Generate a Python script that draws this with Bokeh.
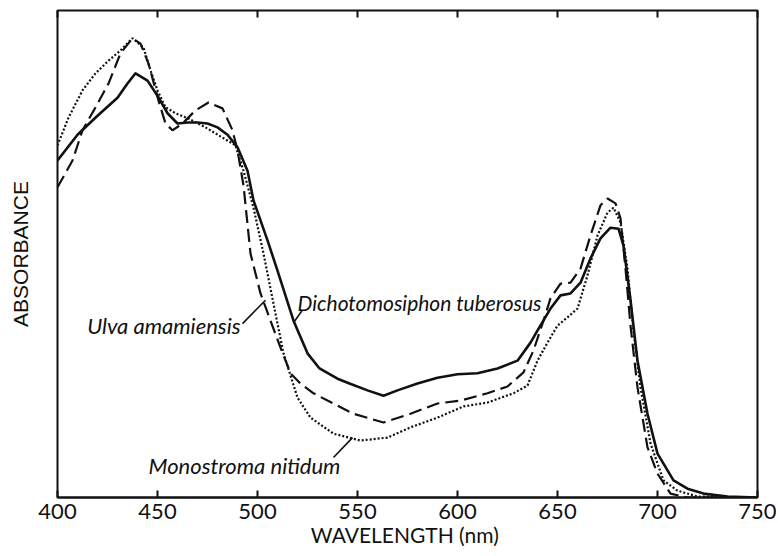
from bokeh.plotting import figure
from bokeh.models import ColumnDataSource, FixedTicker, LinearAxis, Label, Range1d
from bokeh.embed import file_html
from bokeh.resources import INLINE

# ---------------- data ----------------
x_ticks = [400, 450, 500, 550, 600, 650, 700, 750]

dicho_wl = [400, 410, 420, 430, 435, 439, 445, 450, 455, 460, 465, 470, 475, 480, 485,
            490, 495, 498, 505, 510, 518, 525, 531, 540, 546, 555, 563, 570, 580, 590,
            600, 610, 620, 630, 636.5, 641, 646.5, 651.5, 656.5, 661.5, 666.5, 671.5,
            676.5, 680.5, 683, 686.5, 690, 695, 700, 708, 715, 723, 735, 750]
dicho_abs = [0.692, 0.745, 0.784, 0.821, 0.850, 0.871, 0.856, 0.825, 0.789, 0.768, 0.770,
             0.770, 0.768, 0.760, 0.745, 0.719, 0.671, 0.610, 0.528, 0.466, 0.363, 0.296,
             0.265, 0.244, 0.234, 0.220, 0.209, 0.220, 0.234, 0.246, 0.253, 0.255, 0.265,
             0.281, 0.318, 0.350, 0.388, 0.415, 0.419, 0.441, 0.491, 0.532, 0.554, 0.552,
             0.517, 0.405, 0.281, 0.172, 0.090, 0.035, 0.018, 0.008, 0.002, 0.0]

ulva_wl = [400, 407.5, 412.5, 419, 425.5, 431.5, 437.5, 441.5, 445.5, 450.5, 454, 457.5,
           462.5, 469, 475.5, 482.5, 487.5, 490, 493, 496.5, 501.5, 506.5, 511.5, 516.5,
           521.5, 528, 535, 548, 563, 576.5, 590, 601.5, 615, 625, 633, 638, 643, 646.5,
           651.5, 656.5, 661.5, 666.5, 671.5, 675, 679, 681.5, 684, 686.5, 690, 695, 700,
           706.5, 715, 750]
ulva_abs = [0.637, 0.692, 0.754, 0.801, 0.850, 0.912, 0.943, 0.932, 0.891, 0.815, 0.768,
            0.754, 0.768, 0.795, 0.811, 0.799, 0.754, 0.713, 0.641, 0.501, 0.419, 0.363,
            0.308, 0.255, 0.234, 0.214, 0.199, 0.172, 0.154, 0.172, 0.193, 0.199, 0.214,
            0.228, 0.257, 0.302, 0.363, 0.409, 0.439, 0.441, 0.470, 0.538, 0.600, 0.614,
            0.604, 0.573, 0.470, 0.353, 0.226, 0.103, 0.049, 0.008, 0.0, 0.0]

mono_wl = [400, 405.5, 412.5, 419, 425.5, 431.5, 437.5, 443, 446.5, 450, 454, 459, 465.5,
           474, 482.5, 489, 493, 498, 503, 508, 513, 520, 526.5, 538, 551.5, 565, 576.5,
           590, 603, 615, 628, 635, 640, 645, 650, 655, 660, 665, 670, 675, 678, 681.5,
           685, 688, 691.5, 696.5, 703, 710, 720, 750]
mono_abs = [0.723, 0.780, 0.836, 0.871, 0.897, 0.918, 0.943, 0.924, 0.877, 0.836, 0.801,
            0.789, 0.778, 0.760, 0.739, 0.723, 0.671, 0.595, 0.501, 0.398, 0.296, 0.205,
            0.164, 0.131, 0.117, 0.123, 0.144, 0.164, 0.187, 0.195, 0.214, 0.230, 0.281,
            0.318, 0.353, 0.370, 0.388, 0.456, 0.538, 0.585, 0.595, 0.565, 0.470, 0.343,
            0.226, 0.111, 0.035, 0.014, 0.002, 0.0]

# curve labels: text, anchor (wl, abs), alignment, font size, leader line start/end
label_names = ["Dichotomosiphon tuberosus", "Ulva amamiensis", "Monostroma nitidum"]
label_wl = [520, 491.5, 445.5]
label_abs = [0.400, 0.353, 0.066]
label_align = ["left", "right", "left"]
label_size = ["21px", "22px", "22px"]
leader_wl0 = [522.5, 492.5, 538]
leader_abs0 = [0.385, 0.357, 0.082]
leader_wl1 = [518, 504, 547.5]
leader_abs1 = [0.359, 0.405, 0.123]

INK = "#111111"
FONT = "Lato"

# ---------------- figure ----------------
p = figure(width=776, height=556, output_backend="svg", toolbar_location=None,
           x_range=Range1d(400, 750), y_range=Range1d(0, 1.0),
           min_border_left=57, min_border_right=19, min_border_top=10,
           min_border_bottom=59)
p.xgrid.visible = False
p.ygrid.visible = False
p.outline_line_color = INK
p.outline_line_width = 2
p.background_fill_color = "white"
p.border_fill_color = "white"

ax = p.xaxis[0]
ax.ticker = FixedTicker(ticks=x_ticks)
ax.major_tick_in = 7
ax.major_tick_out = 0
ax.minor_tick_line_color = None
ax.major_tick_line_width = 2
ax.major_tick_line_color = INK
ax.axis_line_color = INK
ax.axis_line_width = 2
ax.major_label_text_font = FONT
ax.major_label_text_font_size = "22px"
ax.major_label_text_color = INK
ax.major_label_standoff = 6
ax.axis_label = "WAVELENGTH  (nm)"
ax.axis_label_text_font = FONT
ax.axis_label_text_font_style = "normal"
ax.axis_label_text_font_size = "21px"
ax.axis_label_text_color = INK
ax.axis_label_standoff = 0

ay = p.yaxis[0]
ay.ticker = FixedTicker(ticks=[])
ay.major_tick_in = 0
ay.major_tick_out = 0
ay.minor_tick_line_color = None
ay.axis_line_color = None
ay.major_label_text_font_size = "1px"
ay.major_label_text_color = None
ay.axis_label = "ABSORBANCE"
ay.axis_label_text_font = "Liberation Sans"
ay.axis_label_text_font_style = "normal"
ay.axis_label_text_font_size = "21px"
ay.axis_label_text_color = INK
ay.axis_label_standoff = 26

top = LinearAxis(ticker=FixedTicker(ticks=x_ticks), major_tick_in=7, major_tick_out=0,
                 minor_tick_line_color=None, major_tick_line_width=2,
                 major_tick_line_color=INK, axis_line_color=None,
                 major_label_text_font_size="1px", major_label_text_color=None,
                 major_label_standoff=0)
p.add_layout(top, "above")

# ---------------- curves ----------------
src_d = ColumnDataSource(dict(x=dicho_wl, y=dicho_abs))
src_u = ColumnDataSource(dict(x=ulva_wl, y=ulva_abs))
src_m = ColumnDataSource(dict(x=mono_wl, y=mono_abs))

p.line("x", "y", source=src_m, line_color=INK, line_width=2.2, line_dash="2 2")
p.line("x", "y", source=src_u, line_color=INK, line_width=2.2, line_dash="13 6")
p.line("x", "y", source=src_d, line_color=INK, line_width=2.6, line_join="round")

# ---------------- curve labels ----------------
p.segment(x0=leader_wl0, y0=leader_abs0, x1=leader_wl1, y1=leader_abs1,
          line_color=INK, line_width=1.6)
for name, lx, ly, al, fs in zip(label_names, label_wl, label_abs, label_align, label_size):
    p.add_layout(Label(x=lx, y=ly, text=name, text_align=al, text_baseline="middle",
                       text_font=FONT, text_font_style="italic",
                       text_font_size=fs, text_color=INK))

open("out.html", "w").write(file_html(p, INLINE))
